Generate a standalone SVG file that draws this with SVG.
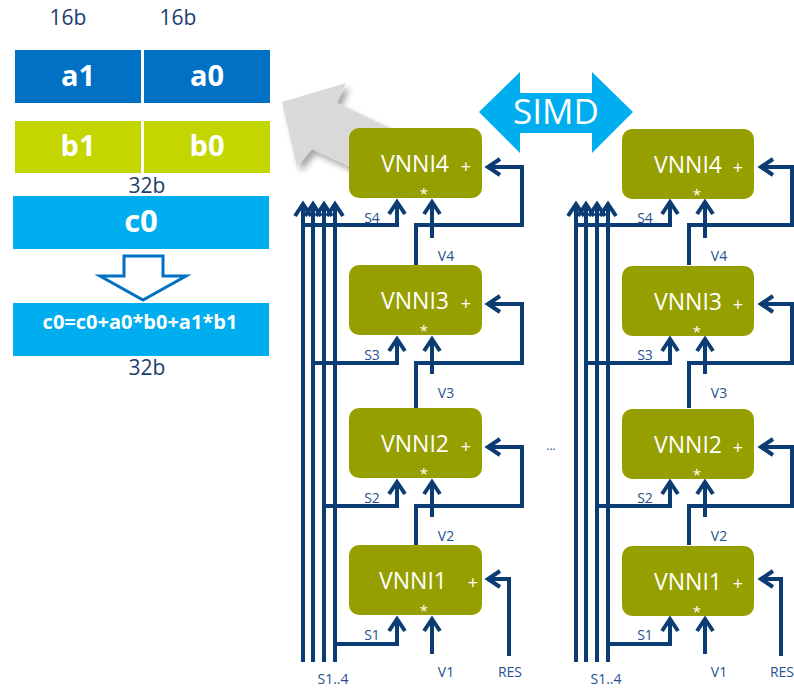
<svg xmlns="http://www.w3.org/2000/svg" width="794" height="690" viewBox="0 0 794 690">
  <style>
    .t { font-family: "Open Sans", "Noto Sans", "Liberation Sans", sans-serif; }
    .bits { font-size: 21px; fill: #1b3f6e; text-anchor: middle; }
    .reg { font-size: 29px; font-weight: bold; fill: #ffffff; text-anchor: middle; }
    .vn { font-size: 23px; fill: #ffffff; text-anchor: middle; }
    .op { font-size: 18px; fill: #ffffff; text-anchor: middle; }
    .star { font-size: 15px; fill: #ffffff; text-anchor: middle; }
    .lbl { font-size: 14px; fill: #25528f; text-anchor: middle; }
    .box { fill: #95a000; }
    .wire { fill: none; stroke: #0b3c73; stroke-width: 4; stroke-linejoin: miter; marker-end: url(#arr); }
  </style>
  <defs>
    <marker id="arr" markerUnits="userSpaceOnUse" markerWidth="24" markerHeight="24" refX="0" refY="0" orient="auto" overflow="visible">
      <path d="M-11,-8 L1,0 L-11,8" fill="none" stroke="#0b3c73" stroke-width="4"/>
    </marker>
    <filter id="shadow" x="-20%" y="-20%" width="150%" height="150%">
      <feGaussianBlur in="SourceAlpha" stdDeviation="3"/>
      <feOffset dx="4" dy="5" result="b"/>
      <feComponentTransfer><feFuncA type="linear" slope="0.35"/></feComponentTransfer>
      <feMerge><feMergeNode/><feMergeNode in="SourceGraphic"/></feMerge>
    </filter>
  </defs>

  <rect width="794" height="690" fill="#ffffff"/>

  <!-- operand layout -->
  <g id="bits-labels" class="t">
    <text class="bits" x="68" y="25">16b</text>
    <text class="bits" x="178" y="25">16b</text>
  </g>
  <g id="reg-a" class="t">
    <rect x="15" y="50" width="126" height="53" fill="#0071c5"/>
    <rect x="144" y="50" width="126" height="53" fill="#0071c5"/>
    <text class="reg" x="78" y="86">a1</text>
    <text class="reg" x="207" y="86">a0</text>
  </g>
  <g id="reg-b" class="t">
    <rect x="15" y="121" width="126" height="52" fill="#c4d600"/>
    <rect x="144" y="121" width="126" height="52" fill="#c4d600"/>
    <text class="reg" x="78" y="156">b1</text>
    <text class="reg" x="207" y="156">b0</text>
  </g>
  <g id="reg-c" class="t">
    <text class="bits" x="147" y="193">32b</text>
    <rect x="13" y="196" width="256" height="53" fill="#00aeef"/>
    <text class="reg" x="141" y="232" style="font-size:31px">c0</text>
  </g>
  <g id="down-arrow">
    <polygon points="124,256 163,256 163,276 186,276 143,300 100,276 124,276" fill="#ffffff" stroke="#0071c5" stroke-width="3" stroke-linejoin="miter"/>
  </g>
  <g id="result" class="t">
    <rect x="13" y="303" width="256" height="53" fill="#00aeef"/>
    <text class="reg" x="140" y="329" style="font-size:20px">c0=c0+a0*b0+a1*b1</text>
    <text class="bits" x="147" y="375">32b</text>
  </g>

  <!-- zoom-out arrow behind the first unit -->
  <g id="gray-arrow">
    <polygon points="282,102 346,83 337,103 420,142 400,190 312,149 297,167" fill="#d9d9d9" filter="url(#shadow)"/>
  </g>

  <!-- SIMD double arrow -->
  <g id="simd" class="t">
    <polygon points="479,112 520,72 520,93 592,93 592,72 633,112 592,153 592,133 520,133 520,153" fill="#00aeef"/>
    <text x="556" y="124" font-size="35" fill="#ffffff" text-anchor="middle">SIMD</text>
  </g>

  <!-- connectors -->
  <g id="connectors">
    <!-- left lane -->
    <path class="wire" d="M303,662 V205"/>
    <path class="wire" d="M313,662 V205"/>
    <path class="wire" d="M324,662 V205"/>
    <path class="wire" d="M335,662 V205"/>
    <path class="wire" d="M303,225 H397 V203"/>
    <path class="wire" d="M313,363 H397 V340"/>
    <path class="wire" d="M324,506 H397 V483"/>
    <path class="wire" d="M335,644 H397 V620"/>
    <path class="wire" d="M432,238 V203"/>
    <path class="wire" d="M432,374 V340"/>
    <path class="wire" d="M432,517 V483"/>
    <path class="wire" d="M432,654 V620"/>
    <path class="wire" d="M416,265 V225 H522 V167 H489"/>
    <path class="wire" d="M416,408 V363 H522 V304 H489"/>
    <path class="wire" d="M416,545 V506 H522 V447 H489"/>
    <path class="wire" d="M509,656 V579 H489"/>
    <!-- right lane -->
    <path class="wire" d="M576,662 V205"/>
    <path class="wire" d="M586,662 V205"/>
    <path class="wire" d="M597,662 V205"/>
    <path class="wire" d="M608,662 V205"/>
    <path class="wire" d="M576,225 H670 V203"/>
    <path class="wire" d="M586,363 H670 V340"/>
    <path class="wire" d="M597,506 H670 V483"/>
    <path class="wire" d="M608,644 H670 V620"/>
    <path class="wire" d="M705,238 V203"/>
    <path class="wire" d="M705,374 V340"/>
    <path class="wire" d="M705,517 V483"/>
    <path class="wire" d="M705,654 V620"/>
    <path class="wire" d="M689,265 V225 H792 V167 H762"/>
    <path class="wire" d="M689,408 V363 H792 V304 H762"/>
    <path class="wire" d="M689,545 V506 H792 V447 H762"/>
    <path class="wire" d="M781,656 V579 H762"/>
  </g>

  <!-- left lane units -->
  <g id="L-vnni4" class="t">
    <rect class="box" x="349" y="128" width="133" height="70" rx="10"/>
    <text class="vn" x="415" y="172">VNNI4</text>
    <text class="op" x="466" y="173">+</text>
    <text class="star" x="424" y="199">*</text>
  </g>
  <g id="L-vnni3" class="t">
    <rect class="box" x="349" y="265" width="133" height="70" rx="10"/>
    <text class="vn" x="415" y="309">VNNI3</text>
    <text class="op" x="466" y="310">+</text>
    <text class="star" x="424" y="336">*</text>
  </g>
  <g id="L-vnni2" class="t">
    <rect class="box" x="349" y="408" width="133" height="70" rx="10"/>
    <text class="vn" x="415" y="452">VNNI2</text>
    <text class="op" x="466" y="453">+</text>
    <text class="star" x="424" y="479">*</text>
  </g>
  <g id="L-vnni1" class="t">
    <rect class="box" x="349" y="545" width="133" height="70" rx="10"/>
    <text class="vn" x="413" y="589">VNNI1</text>
    <text class="op" x="473" y="589">+</text>
    <text class="star" x="424" y="616">*</text>
  </g>

  <!-- right lane units -->
  <g id="R-vnni4" class="t">
    <rect class="box" x="622" y="129" width="132" height="70" rx="10"/>
    <text class="vn" x="688" y="173">VNNI4</text>
    <text class="op" x="738" y="174">+</text>
    <text class="star" x="697" y="200">*</text>
  </g>
  <g id="R-vnni3" class="t">
    <rect class="box" x="622" y="266" width="132" height="70" rx="10"/>
    <text class="vn" x="688" y="310">VNNI3</text>
    <text class="op" x="738" y="311">+</text>
    <text class="star" x="697" y="337">*</text>
  </g>
  <g id="R-vnni2" class="t">
    <rect class="box" x="622" y="409" width="132" height="70" rx="10"/>
    <text class="vn" x="688" y="453">VNNI2</text>
    <text class="op" x="738" y="454">+</text>
    <text class="star" x="697" y="480">*</text>
  </g>
  <g id="R-vnni1" class="t">
    <rect class="box" x="622" y="546" width="132" height="70" rx="10"/>
    <text class="vn" x="688" y="590">VNNI1</text>
    <text class="op" x="738" y="590">+</text>
    <text class="star" x="697" y="617">*</text>
  </g>

  <!-- wire labels -->
  <g id="labels" class="t">
    <text class="lbl" x="372" y="223">S4</text>
    <text class="lbl" x="372" y="360">S3</text>
    <text class="lbl" x="372" y="503">S2</text>
    <text class="lbl" x="372" y="640">S1</text>
    <text class="lbl" x="446" y="261">V4</text>
    <text class="lbl" x="446" y="398">V3</text>
    <text class="lbl" x="446" y="541">V2</text>
    <text class="lbl" x="446" y="677">V1</text>
    <text class="lbl" x="510" y="677">RES</text>
    <text class="lbl" x="333" y="684">S1..4</text>

    <text class="lbl" x="645" y="223">S4</text>
    <text class="lbl" x="645" y="360">S3</text>
    <text class="lbl" x="645" y="503">S2</text>
    <text class="lbl" x="645" y="640">S1</text>
    <text class="lbl" x="719" y="261">V4</text>
    <text class="lbl" x="719" y="398">V3</text>
    <text class="lbl" x="719" y="541">V2</text>
    <text class="lbl" x="719" y="677">V1</text>
    <text class="lbl" x="782" y="677">RES</text>
    <text class="lbl" x="606" y="684">S1..4</text>

    <text class="lbl" x="551" y="450" style="font-size:12px">...</text>
  </g>
</svg>
